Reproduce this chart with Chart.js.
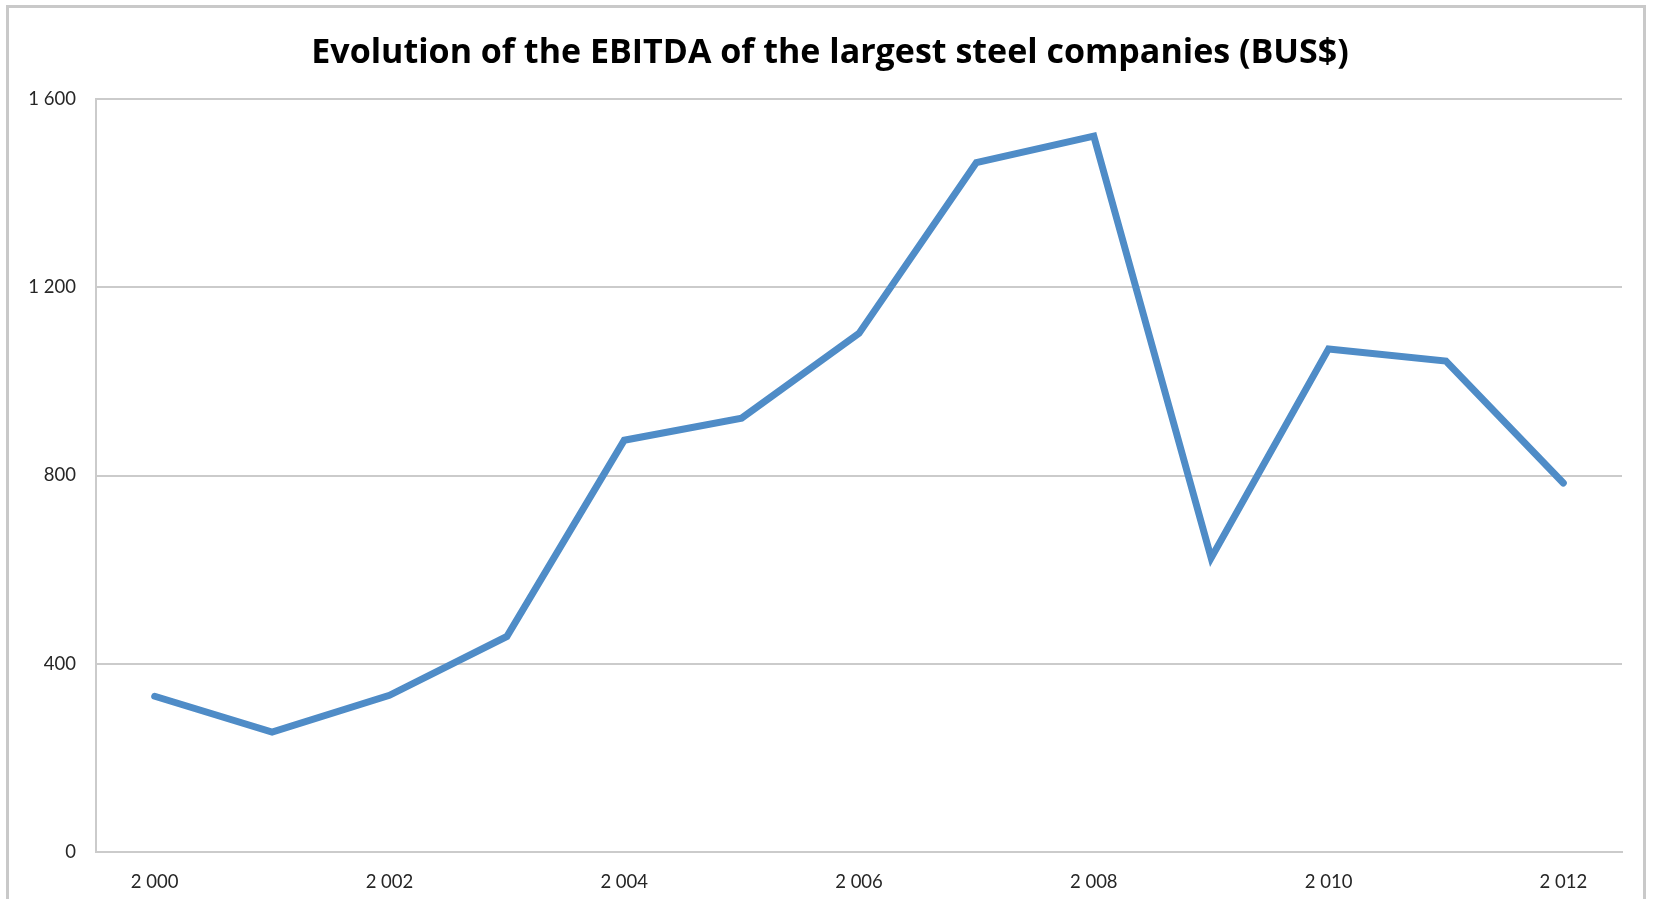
<!DOCTYPE html>
<html>
<head>
<meta charset="utf-8">
<script src="https://cdn.jsdelivr.net/npm/chart.js@4/dist/chart.umd.min.js"></script>
<style>
  html, body { margin: 0; padding: 0; background: #ffffff; }
  #wrap { position: relative; width: 1655px; height: 899px; overflow: hidden; }
  #frame {
    position: absolute; left: 6px; top: 5px; width: 1640px; height: 960px;
    border: 3px solid #c9c9c9; box-sizing: border-box;
  }
  #c { position: absolute; left: 0; top: 0; }
</style>
</head>
<body>
<div id="wrap">
  <div id="frame"></div>
  <canvas id="c" width="1655" height="899"></canvas>
</div>
<script>
// EBITDA of the largest steel companies, billions of US$
const years = ['2 000', '2 001', '2 002', '2 003', '2 004', '2 005', '2 006',
               '2 007', '2 008', '2 009', '2 010', '2 011', '2 012'];
const ebitda = [331, 255, 333, 458, 875, 922, 1102, 1465, 1521, 625, 1069, 1043, 784];
const yTickValues = [0, 400, 800, 1200, 1600];
const yTickLabels = ['0', '400', '800', '1 200', '1 600'];

const gridGrey = '#cbcbcb';
const tickFont = { family: 'Lato, "Open Sans", sans-serif', size: 18.5 };

// Centre the title on the framed panel rather than on the canvas box
const titleShift = {
  id: 'titleShift',
  afterLayout(chart) {
    const t = chart.titleBlock;
    if (t) { t.left += 19; t.right += 19; }
  }
};

new Chart(document.getElementById('c'), {
  type: 'line',
  data: {
    labels: years,
    datasets: [{
      data: ebitda,
      borderColor: '#4f8cc7',
      borderWidth: 7,
      borderCapStyle: 'round',
      borderJoinStyle: 'miter',
      pointRadius: 0,
      tension: 0,
      fill: false
    }]
  },
  plugins: [titleShift],
  options: {
    responsive: false,
    animation: false,
    layout: { padding: { left: 0, right: 33, top: 0, bottom: 0 } },
    plugins: {
      legend: { display: false },
      tooltip: { enabled: false },
      title: {
        display: true,
        text: 'Evolution of the EBITDA of the largest steel companies (BUS$)',
        color: '#000000',
        font: { family: '"Open Sans", Lato, sans-serif', size: 34, weight: 'bold', lineHeight: 1.2 },
        padding: { top: 33, bottom: 25.2 }
      }
    },
    scales: {
      x: {
        type: 'category',
        offset: true,
        grid: { display: false, drawTicks: false },
        border: { display: true, color: gridGrey, width: 2 },
        ticks: {
          autoSkip: false,
          maxRotation: 0,
          padding: 19,
          color: '#262626',
          font: tickFont,
          callback: (v, i) => (i % 2 === 0 ? years[i] : '')
        },
        afterFit: (s) => { s.height = 47; }
      },
      y: {
        min: 0,
        max: 1600,
        afterBuildTicks: (s) => { s.ticks = yTickValues.map(v => ({ value: v })); },
        grid: { color: gridGrey, lineWidth: 2, drawTicks: false },
        border: { display: true, color: gridGrey, width: 2 },
        ticks: {
          padding: 20,
          color: '#262626',
          font: tickFont,
          callback: (v) => yTickLabels[yTickValues.indexOf(v)]
        },
        afterFit: (s) => { s.width = 96; }
      }
    }
  }
});
</script>
</body>
</html>
